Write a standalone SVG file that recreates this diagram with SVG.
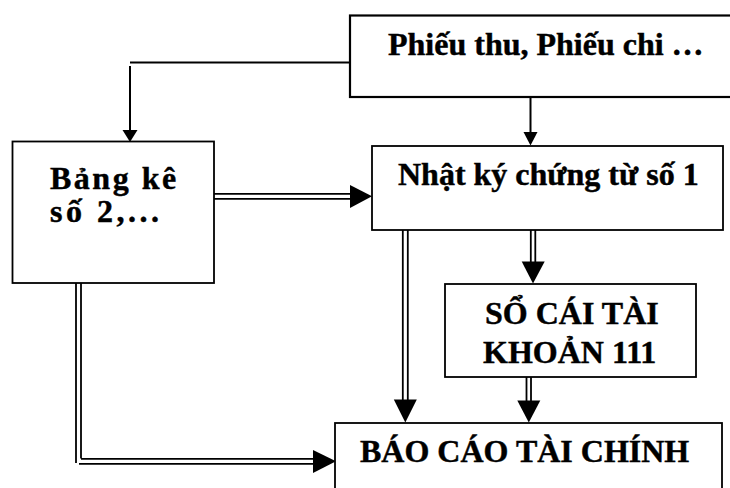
<svg xmlns="http://www.w3.org/2000/svg" width="730" height="488" viewBox="0 0 730 488">
  <style>
    .box { fill: #fff; stroke: #000; stroke-width: 1.8; }
    .lbl { font-family: "Liberation Serif", "Times New Roman", serif; font-weight: bold; font-size: 32px; fill: #000; stroke: #000; stroke-width: 0.45; }
    .ln { stroke: #000; stroke-width: 2; fill: none; }
    .dl { stroke: #000; stroke-width: 1.8; fill: none; }
    .head { fill: #000; stroke: none; }
  </style>
  <rect width="730" height="488" fill="#fff"/>

  <g id="connectors">
    <!-- source documents to the listing (single line, elbow) -->
    <line class="ln" x1="350" y1="62.5" x2="130" y2="62.5"/>
    <line class="ln" x1="130" y1="66" x2="130" y2="131"/>
    <polygon class="head" points="122.5,130 137.5,130 130,142"/>

    <!-- source documents to journal -->
    <line class="ln" x1="530.5" y1="97" x2="530.5" y2="133"/>
    <polygon class="head" points="523.5,132 537.5,132 530.5,145.5"/>

    <!-- listing to journal (double) -->
    <line class="dl" x1="214" y1="193.8" x2="352" y2="193.8"/>
    <line class="dl" x1="214" y1="198.8" x2="352" y2="198.8"/>
    <polygon class="head" points="350,185 350,208 372,196.3"/>

    <!-- journal down to financial report (double) -->
    <line class="dl" x1="402.8" y1="230" x2="402.8" y2="402"/>
    <line class="dl" x1="407.8" y1="230" x2="407.8" y2="402"/>
    <polygon class="head" points="393.8,399.5 416.8,399.5 405.3,422.5"/>

    <!-- journal down to ledger (double) -->
    <line class="dl" x1="530.8" y1="230" x2="530.8" y2="264"/>
    <line class="dl" x1="535.3" y1="230" x2="535.3" y2="264"/>
    <polygon class="head" points="521.7,261.5 544.7,261.5 533,283.5"/>

    <!-- ledger down to financial report (double) -->
    <line class="dl" x1="526.5" y1="377" x2="526.5" y2="403"/>
    <line class="dl" x1="531" y1="377" x2="531" y2="403"/>
    <polygon class="head" points="517.3,400.5 540.3,400.5 528.8,422.5"/>

    <!-- listing down and across to financial report (double, elbow) -->
    <line class="dl" x1="76" y1="283" x2="76" y2="463"/>
    <line class="dl" x1="81" y1="283" x2="81" y2="458.5"/>
    <line class="dl" x1="81" y1="458.8" x2="316" y2="458.8"/>
    <line class="dl" x1="79" y1="463.8" x2="316" y2="463.8"/>
    <polygon class="head" points="313,450 313,473 336,461.3"/>
  </g>

  <g id="node-chung-tu">
    <rect class="box" x="350" y="15.5" width="400" height="81.5" style="stroke-width:2.2"/>
    <text class="lbl" x="388" y="55">Phiếu thu, Phiếu chi …</text>
  </g>

  <g id="node-bang-ke">
    <rect class="box" x="12.5" y="141.5" width="201.5" height="141.5"/>
    <text class="lbl" x="50" y="189" letter-spacing="2.5">Bảng kê</text>
    <text class="lbl" x="50" y="222" letter-spacing="3.5">số 2,...</text>
  </g>

  <g id="node-nhat-ky">
    <rect class="box" x="372" y="146" width="351" height="84"/>
    <text class="lbl" x="398" y="185">Nhật ký chứng từ số 1</text>
  </g>

  <g id="node-so-cai">
    <rect class="box" x="445" y="284" width="251" height="93"/>
    <text class="lbl" x="485" y="324">SỔ CÁI TÀI</text>
    <text class="lbl" x="483" y="363">KHOẢN 111</text>
  </g>

  <g id="node-bao-cao">
    <rect class="box" x="335" y="423" width="387" height="80"/>
    <text class="lbl" x="360" y="462">BÁO CÁO TÀI CHÍNH</text>
  </g>
</svg>
